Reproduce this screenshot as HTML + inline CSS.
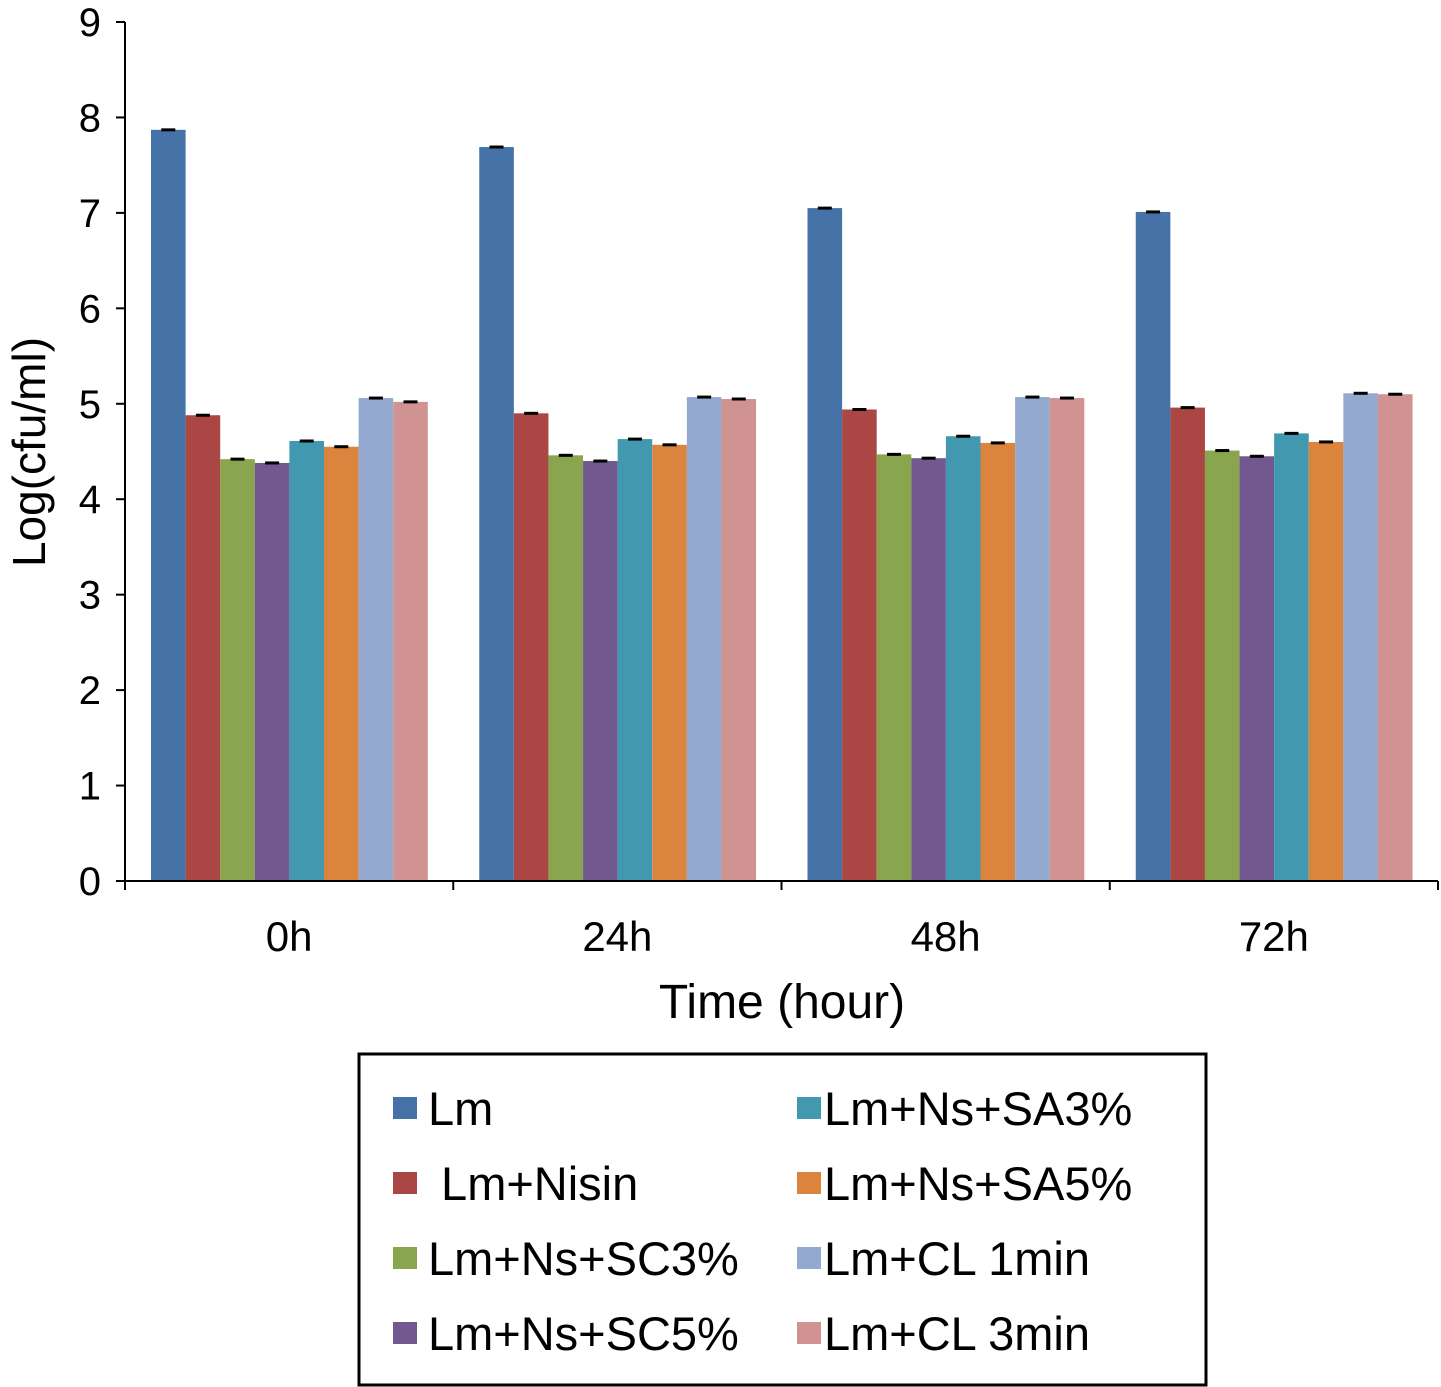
<!DOCTYPE html>
<html><head><meta charset="utf-8"><style>
body{margin:0;background:#fff}
svg{display:block;font-family:"Liberation Sans",Arial,sans-serif}
</style></head><body>
<svg id="chart" width="1441" height="1387" viewBox="0 0 1441 1387">
<g id="bars"></g>
<g id="axes"></g>
<text x="782" y="1018" font-size="48" text-anchor="middle">Time (hour)</text>
<text transform="translate(45,452) rotate(-90)" font-size="46" text-anchor="middle">Log(cfu/ml)</text>
<rect x="359" y="1054" width="847" height="331" fill="none" stroke="#000" stroke-width="3"/>
<g id="legend"></g>
</svg>
<script>
const categories=["0h","24h","48h","72h"];
const seriesNames=["Lm"," Lm+Nisin","Lm+Ns+SC3%","Lm+Ns+SC5%","Lm+Ns+SA3%","Lm+Ns+SA5%","Lm+CL 1min","Lm+CL 3min"];
const colors=["#4572a7","#aa4643","#89a54e","#71588f","#4198af","#db843d","#93a9cf","#d09392"];
const sLm=[7.87,7.69,7.05,7.01];
const sNisin=[4.88,4.90,4.94,4.96];
const sSC3=[4.42,4.46,4.47,4.51];
const sSC5=[4.38,4.40,4.43,4.45];
const sSA3=[4.61,4.63,4.66,4.69];
const sSA5=[4.55,4.57,4.59,4.60];
const sCL1=[5.06,5.07,5.07,5.11];
const sCL3=[5.02,5.05,5.06,5.10];
const yTicks=[0,1,2,3,4,5,6,7,8,9];
const series=[sLm,sNisin,sSC3,sSC5,sSA3,sSA5,sCL1,sCL3];
const NS="http://www.w3.org/2000/svg";
const x0=125,x1=1438,y0=881,yTop=22,yMax=9;
const gw=(x1-x0)/categories.length,bw=34.6,off=26;
const yS=v=>y0-(v/yMax)*(y0-yTop);
function mk(t,a,p){const e=document.createElementNS(NS,t);for(const k in a)e.setAttribute(k,a[k]);p.appendChild(e);return e;}
const bars=document.getElementById('bars'),axes=document.getElementById('axes'),leg=document.getElementById('legend');
series.forEach((s,si)=>{s.forEach((v,ci)=>{
 const x=x0+ci*gw+off+si*bw,y=yS(v);
 const r=mk('rect',{x:x,y:y,width:bw,height:y0-y,fill:colors[si]},bars);
 
 
 const l=mk('line',{x1:x+bw/2-7,x2:x+bw/2+7,y1:y,y2:y,stroke:'#000','stroke-width':3},bars);
 
 
});});
const ya=mk('line',{x1:x0,x2:x0,y1:yTop,y2:y0,stroke:'#000','stroke-width':2},axes);


const xa=mk('line',{x1:x0,x2:x1,y1:y0,y2:y0,stroke:'#000','stroke-width':2},axes);


yTicks.forEach(t=>{const y=yS(t);
 mk('line',{x1:x0-9,x2:x0,y1:y,y2:y,stroke:'#000','stroke-width':2},axes);
 const tx=mk('text',{x:101,y:y+14,'font-size':40,'text-anchor':'end'},axes);tx.textContent=t;
 
 
});
for(let i=0;i<=categories.length;i++){const x=x0+i*gw;mk('line',{x1:x,x2:x,y1:y0,y2:y0+9,stroke:'#000','stroke-width':2},axes);}
categories.forEach((c,i)=>{const tx=mk('text',{x:x0+(i+0.5)*gw,y:951,'font-size':42,'text-anchor':'middle'},axes);tx.textContent=c;
 
 
});
seriesNames.forEach((n,i)=>{const col=Math.floor(i/4),row=i%4;
 const sx=col?797:393,cy=1108+row*75;
 const g=mk('g',{},leg);
 
 
 mk('rect',{x:sx,y:cy-11,width:24,height:22,fill:colors[i]},g);
 const t=mk('text',{x:sx+(col?27:35),y:cy+17,'font-size':47},g);t.textContent=n;t.style.whiteSpace='pre';
});
</script>
</body></html>
